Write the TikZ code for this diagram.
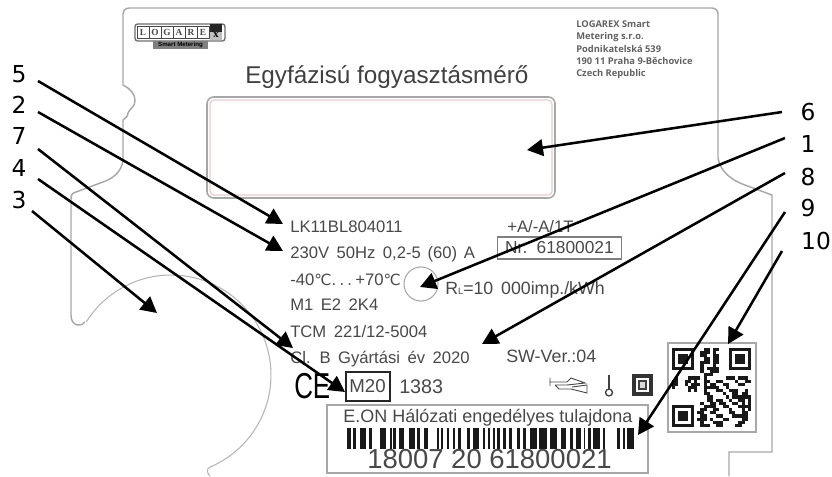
\documentclass[tikz,border=0pt]{standalone}
\usepackage{fontspec}
\usetikzlibrary{arrows.meta}
\setmainfont{Liberation Sans}
\newfontfamily\widefam[WordSpace=1.6]{Liberation Sans}
\newfontfamily\djfam{DejaVu Sans}
\newfontfamily\addrfam{Open Sans}
\newfontfamily\serfam{Liberation Serif}
\newcommand\szz[1]{\fontsize{#1}{#1}\selectfont}
\definecolor{lblgray}{HTML}{484848}
\definecolor{edgegray}{HTML}{A8A8A8}
\tikzset{
  lbl/.style={anchor=base west,inner sep=0pt,text=lblgray,font=\widefam\szz{12.5pt}},
  num/.style={anchor=center,inner sep=0pt,text=black,font=\djfam\szz{17.5pt}},
  ptr/.style={draw=black,line width=1.9pt,-{Triangle[length=12pt,width=12.5pt]}},
  edge/.style={draw=edgegray,line width=1.1pt},
  thin edge/.style={draw=edgegray!85,line width=.8pt},
  logocell/.style={draw=lblgray,line width=.6pt,minimum width=9pt,minimum height=9.5pt,inner sep=0pt,font=\serfam\bfseries\szz{7pt},text=lblgray},
  addr/.style={anchor=base west,inner sep=0pt,text=black!62,font=\addrfam\bfseries\szz{7pt}},
}
\begin{document}
\begin{tikzpicture}[x=0.75pt,y=-0.75pt]
\useasboundingbox (0,0) rectangle (832,476);
% outline of the plate
\draw[edge,rounded corners=4.5pt] (123,85) -- (123,8) -- (718,8) -- (718,150);
\draw[edge] (718,150) -- (718,158) .. controls (720,172) and (733,181) .. (745,185) -- (772,195) -- (772,452) -- (729,452) -- (729,476);
\draw[edge] (123,85) .. controls (127,87) and (135,92) .. (135,101) .. controls (135,107) and (130,108) .. (128,113) .. controls (128,117) and (125,118) .. (123,120) -- (123,160) .. controls (122,172) and (112,179) .. (103,182) -- (76,192) .. controls (72,193) and (71,195) .. (71,199) -- (71,315) .. controls (71,327) and (82,327) .. (85,322);
\draw[thin edge] plot[domain=-148:67,samples=70] ({171+100*cos(\x)},{375+100*sin(\x)});
\draw[thin edge] (210,467) .. controls (206,469) and (207,473) .. (210,476);
% display window
\draw[draw=edgegray,line width=1.2pt,rounded corners=5pt] (207,97) rectangle (555,198);
\draw[draw=pink!70!gray!60,line width=.9pt,rounded corners=3pt] (210,100) rectangle (552,195);
% logo
\draw[draw=lblgray!80,fill=white,line width=1pt,rounded corners=2pt] (135,24) rectangle (225,41);
\fill[fill=black!50] (153,41) rectangle (208,49);
\node[logocell] (lgL) at (143,32.5) {L};
\node[logocell] (lgO) at (155,32.5) {O};
\node[logocell] (lgG) at (167,32.5) {G};
\node[logocell] (lgA) at (179,32.5) {A};
\node[logocell] (lgR) at (191,32.5) {R};
\node[logocell] (lgE) at (203,32.5) {E};
\fill[black!85] (210,24) rectangle (222,32);
\fill[black!25] (210,32) rectangle (222,40);
\node[anchor=center,inner sep=0pt,font=\serfam\bfseries\szz{8pt}] (lgx) at (216,35) {x};
\node[anchor=center,inner sep=0pt,font=\bfseries\szz{4.6pt}] (lgs) at (180.5,45) {Smart Metering};
% title and address
\node[anchor=base west,inner sep=0pt,text=black!75,font=\szz{18.2pt}] (title) at (245,83) {Egyfázisú fogyasztásmérő};
\node[addr] (ad1) at (576,27) {LOGAREX Smart};
\node[addr] (ad2) at (576,39) {Metering s.r.o.};
\node[addr] (ad3) at (576,52) {Podnikatelská 539};
\node[addr] (ad4) at (576,64) {190 11 Praha 9-Běchovice};
\node[addr] (ad5) at (576,76) {Czech Republic};
% data block
\node[lbl] (t1) at (290,232) {LK11BL804011};
\node[lbl] (t2) at (290,258) {230V 50Hz 0,2-5\hspace{5pt}(60)\hspace{5pt}A};
\node[lbl] (t3) at (290,285) {-40{\djfam\szz{11.5pt}℃}.\hspace{2.5pt}.\hspace{2.5pt}.\hspace{2.5pt}+70{\djfam\szz{11.5pt}℃}};
\node[lbl] (t4) at (290,310) {M1 E2 2K4};
\node[lbl] (t5) at (290,337) {TCM 221/12-5004};
\node[lbl] (t6) at (290,363) {Cl. B Gyártási év 2020};
\node[lbl] (t7) at (507,232) {+A/-A/1T};
\node[draw=lblgray!70,line width=.8pt,minimum width=93pt,minimum height=16.5pt,inner sep=0pt,text=lblgray,font=\widefam\szz{13pt}] (nr) at (559.5,248) {Nr. 61800021};
\node[draw=edgegray,line width=.8pt,circle,minimum size=25.5pt,inner sep=0pt] (rlc) at (421,284) {};
\node[lbl,font=\widefam\szz{13.3pt}] (rl) at (445,294) {R{\szz{7pt}L}=10 000imp./kWh};
\node[lbl,font=\szz{13.4pt}] (sw) at (506,362) {SW-Ver.:04};
% marks
\node[anchor=base west,inner sep=0pt,text=black,font=\szz{27pt}] (ce) at (294,398) {\scalebox{.72}[1]{CE}};
\node[draw=black!85,line width=1.5pt,minimum width=33pt,minimum height=21.5pt,inner sep=0pt,text=lblgray,font=\szz{14pt}] (m20) at (367.5,386.5) {M20};
\node[lbl,font=\szz{14.8pt}] (n1383) at (399,393) {1383};
% icons
\draw[draw=lblgray,line width=.7pt] (550,378) -- (550,386) (550,382) -- (567,382) -- (571,378) -- (585,383) -- (567,385) -- (555,385) (555,385) -- (559,389) -- (571,389) -- (587,393) -- (587,385) -- (572,387);
\draw[draw=black!75,line width=1.3pt] (609,375) -- (609,389);
\draw[draw=black!75,line width=1pt] (609,392.5) circle[radius=2.6pt];
\fill[black!80] (632,374) rectangle (653,396);
\fill[white] (636,378) rectangle (649,392);
\draw[draw=black!75,fill=black!15,line width=1.1pt] (639,381) rectangle (646,389);
% barcode label
\draw[draw=edgegray,line width=1.1pt] (327,405) rectangle (648,473);
\node[anchor=base west,inner sep=0pt,text=lblgray,font=\szz{13.5pt}] (eon) at (343,422) {E.ON Hálózati engedélyes tulajdona};
\foreach \a/\b in {22/32,38/47,60/78,88/96,120/138,150/155,160/168,178/192,208/225,232/240,252/265,292/298,303/310,320/328,338/346,355/362,380/390,400/418,428/435,445/450,458/465,472/480,490/498,508/515,530/540,550/558,570/590,598/622,630/652,662/678,690/698,708/722,732/736,745/752,760/780,790/796,830/840,850/856,862/882}
  \fill[black!90] ({340+\a/3},428) rectangle ({340+\b/3},449);
\node[anchor=base west,inner sep=0pt,text=lblgray,font=\szz{20.6pt}] (bcn) at (367,468) {18007 20 61800021};
% QR code
\draw[draw=edgegray,fill=white,line width=1.1pt] (668,343) rectangle (756,432);
\begin{scope}[shift={(672,348)},x=2.37pt,y=-2.37pt]
\foreach \fx/\fy in {0/0,18/0,0/18}{
  \fill[black!90] (\fx,\fy) rectangle ++(7,7);
  \fill[white] ({\fx+1},{\fy+1}) rectangle ++(5,5);
  \fill[black!90] ({\fx+2},{\fy+2}) rectangle ++(3,3);
}
\foreach \r/\l in {0/{10,11,13,14},1/{9,10,11,13},2/{9,10,13,14},3/{10,11,13,14},4/{9,10,11,13,14},5/{9,13},6/{9,11,12,13,14},7/{9,12,13,14},8/{10,11,12},
 9/{1,5,6,7,8,10,17,18,19,21,22,23},10/{0,1,4,5,7,10,11,14,15,20,23,24},11/{0,1,4,6,7,8,10,12,13,16,17,21,22},12/{0,5,6,7,10,11,12,13,14,17},13/{5,7,10,14,15,18,19,20,23},14/{10,11,16,19,20,22,23},15/{11,12,17,19,20,21,22,23,24},16/{11,12,14,15,18,21,22,24},17/{9,12,13,15,16,19,20,22,24},
 18/{10,11,12,13,16,17,21,22,23,24},19/{9,10,13,14,18,22,24},20/{8,9,12,13,18,19,22,23},21/{9,10,14,15,19,20,21,22,23},22/{8,9,10,12,16,17,22,23},23/{9,13,14,15,21,22},24/{9,10,11,14,15,20,21}}
  \foreach \c in \l \fill[black!90] (\c,\r) rectangle ++(1,1);
\end{scope}
% number labels
\node[num] (n5) at (19,74) {5};
\node[num] (n2) at (19,105) {2};
\node[num] (n7) at (19,136) {7};
\node[num] (n4) at (19,168) {4};
\node[num] (n3) at (19,200) {3};
\node[num] (n6) at (808,112) {6};
\node[num] (n1) at (808,144) {1};
\node[num] (n8) at (808,177) {8};
\node[num] (n9) at (808,208) {9};
\node[num] (n10) at (816,241) {10};
% arrow ends
\coordinate (s5) at (38,81);   \coordinate (e5) at (283,224);
\coordinate (s2) at (38,112);  \coordinate (e2) at (283,251);
\coordinate (s7) at (38,149);  \coordinate (e7) at (293,348);
\coordinate (s4) at (38,179);  \coordinate (e4) at (345,392);
\coordinate (s3) at (32,211);  \coordinate (e3) at (157,313);
\coordinate (s6) at (782,112); \coordinate (e6) at (527,150);
\coordinate (s1) at (785,138); \coordinate (e1) at (420,287);
\coordinate (s8) at (785,173); \coordinate (e8) at (482,344);
\coordinate (s9) at (785,212); \coordinate (e9) at (638,435);
\coordinate (s10) at (782,251);\coordinate (e10) at (728,344);
\foreach \k in {5,2,7,4,3,6,1,8,9,10} \draw[ptr] (s\k) -- (e\k);
\end{tikzpicture}
\end{document}
